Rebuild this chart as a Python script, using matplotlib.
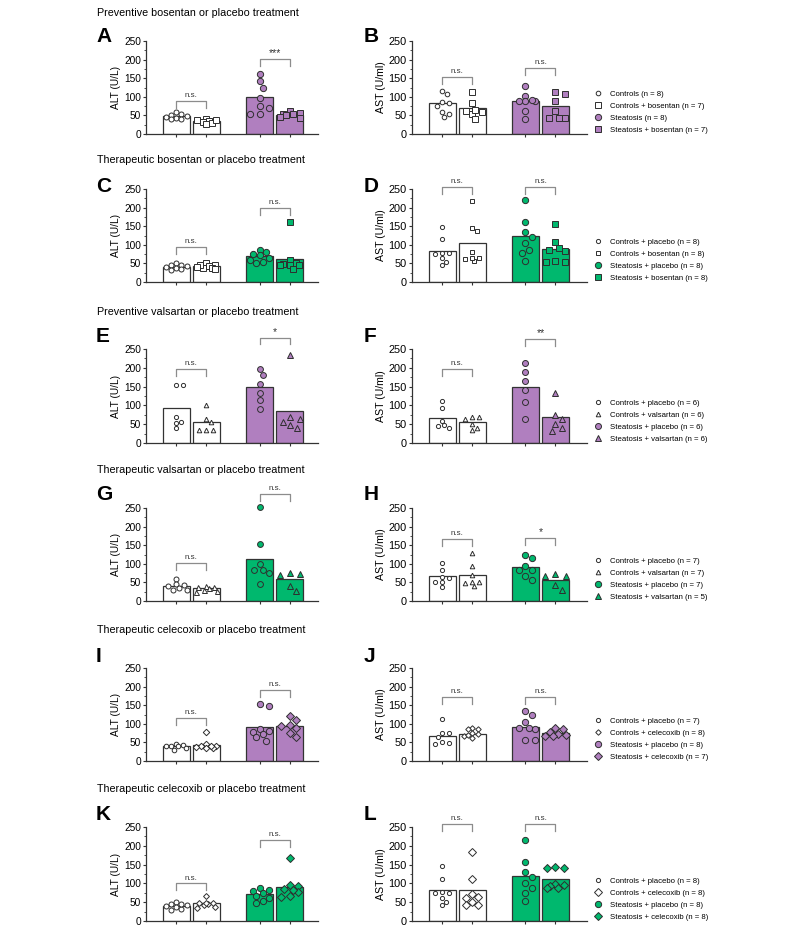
import numpy as np
import matplotlib.pyplot as plt
from matplotlib.lines import Line2D

plt.rcParams['font.family'] = ['Liberation Sans', 'DejaVu Sans']

PURPLE = '#B07FBF'
GREEN = '#00B86E'
EDGE = '#2e2e2e'

# ---- data (U/L or U/ml) ----
titles = ['Preventive bosentan or placebo treatment',
          'Therapeutic bosentan or placebo treatment',
          'Preventive valsartan or placebo treatment',
          'Therapeutic valsartan or placebo treatment',
          'Therapeutic celecoxib or placebo treatment',
          'Therapeutic celecoxib or placebo treatment']

legend_labels = [
    ['Controls (n = 8)', 'Controls + bosentan (n = 7)', 'Steatosis (n = 8)', 'Steatosis + bosentan (n = 7)'],
    ['Controls + placebo (n = 8)', 'Controls + bosentan (n = 8)', 'Steatosis + placebo (n = 8)', 'Steatosis + bosentan (n = 8)'],
    ['Controls + placebo (n = 6)', 'Controls + valsartan (n = 6)', 'Steatosis + placebo (n = 6)', 'Steatosis + valsartan (n = 6)'],
    ['Controls + placebo (n = 7)', 'Controls + valsartan (n = 7)', 'Steatosis + placebo (n = 7)', 'Steatosis + valsartan (n = 5)'],
    ['Controls + placebo (n = 7)', 'Controls + celecoxib (n = 8)', 'Steatosis + placebo (n = 8)', 'Steatosis + celecoxib (n = 7)'],
    ['Controls + placebo (n = 8)', 'Controls + celecoxib (n = 8)', 'Steatosis + placebo (n = 8)', 'Steatosis + celecoxib (n = 8)'],
]

# A: ALT, preventive bosentan
A_means = [48, 35, 99, 52]
A_points = [[60, 54, 50, 49, 47, 42, 41, 40],
            [40, 37, 35, 33, 30, 28, 38],
            [162, 142, 124, 97, 74, 70, 55, 55],
            [62, 57, 55, 50, 47, 42, 53]]
# B: AST, preventive bosentan
B_means = [82, 69, 90, 74]
B_points = [[115, 107, 86, 82, 75, 59, 55, 46],
            [112, 82, 61, 55, 59, 39, 64],
            [130, 103, 90, 89, 90, 61, 40, 92],
            [112, 108, 89, 62, 44, 44, 44]]
# C: ALT, therapeutic bosentan
C_means = [40, 42, 70, 62]
C_points = [[51, 46, 45, 42, 38, 36, 31, 39],
            [51, 46, 42, 38, 36, 38, 45, 39],
            [80, 86, 75, 65, 60, 51, 54, 72],
            [162, 59, 51, 49, 46, 45, 34, 46]]
# D: AST, therapeutic bosentan
D_means = [84, 104, 123, 88]
D_points = [[147, 115, 78, 76, 78, 64, 54, 46],
            [218, 145, 138, 80, 62, 57, 64, 64],
            [220, 160, 134, 122, 104, 87, 78, 57],
            [155, 107, 91, 82, 87, 57, 55, 55]]
# E: ALT, preventive valsartan
E_means = [92, 57, 148, 85]
E_points = [[155, 153, 68, 57, 52, 39],
            [101, 64, 55, 35, 35, 35],
            [196, 181, 158, 134, 115, 90],
            [235, 68, 64, 57, 48, 39]]
# F: AST, preventive valsartan
F_means = [67, 56, 148, 68]
F_points = [[111, 92, 59, 44, 41, 47],
            [69, 65, 69, 50, 34, 41],
            [213, 188, 164, 142, 108, 64],
            [134, 74, 64, 50, 41, 31]]
# G: ALT, therapeutic valsartan
G_means = [41, 35, 114, 59]
G_points = [[60, 45, 43, 35, 30, 29, 41],
            [41, 36, 38, 29, 25, 28, 38],
            [252, 154, 99, 83, 83, 76, 47],
            [76, 73, 71, 41, 28]]
# H: AST, therapeutic valsartan
H_means = [66, 70, 91, 56]
H_points = [[102, 82, 62, 65, 51, 51, 38],
            [129, 93, 70, 50, 39, 48, 50],
            [125, 116, 95, 83, 84, 68, 57],
            [72, 66, 66, 44, 30]]
# I: ALT, therapeutic celecoxib
I_means = [40, 44, 92, 94]
I_points = [[46, 44, 41, 40, 35, 30, 39],
            [77, 46, 41, 39, 35, 34, 37, 41],
            [152, 149, 85, 81, 79, 72, 65, 55],
            [121, 109, 96, 95, 88, 76, 64]]
# J: AST, therapeutic celecoxib
J_means = [67, 73, 92, 75]
J_points = [[114, 74, 75, 64, 50, 46, 48],
            [89, 86, 85, 75, 73, 66, 62, 70],
            [135, 125, 105, 89, 89, 85, 57, 57],
            [89, 85, 77, 73, 68, 68, 71]]
# K: ALT, therapeutic celecoxib
K_means = [40, 47, 72, 91]
K_points = [[51, 44, 42, 40, 38, 33, 29, 45],
            [66, 47, 42, 38, 35, 47, 45, 48],
            [87, 82, 80, 75, 66, 62, 54, 47],
            [168, 96, 93, 84, 78, 66, 65, 82]]
# L: AST, therapeutic celecoxib
L_means = [82, 82, 119, 112]
L_points = [[145, 111, 77, 75, 75, 60, 51, 43],
            [184, 111, 71, 64, 62, 51, 43, 43],
            [215, 157, 130, 118, 102, 87, 75, 53],
            [140, 140, 144, 98, 93, 87, 87, 96]]

# significance: (controls pair, steatosis pair) labels and bracket heights
sig_labels = {'A': ['n.s.', '***'], 'B': ['n.s.', 'n.s.'], 'C': ['n.s.', 'n.s.'],
              'D': ['n.s.', 'n.s.'], 'E': ['n.s.', '*'], 'F': ['n.s.', '**'],
              'G': ['n.s.', 'n.s.'], 'H': ['n.s.', '*'], 'I': ['n.s.', 'n.s.'],
              'J': ['n.s.', 'n.s.'], 'K': ['n.s.', 'n.s.'], 'L': ['n.s.', 'n.s.']}
sig_heights = {'A': [89, 202], 'B': [153, 177], 'C': [94, 199], 'D': [255, 255],
               'E': [196, 280], 'F': [196, 277], 'G': [102, 288], 'H': [167, 169],
               'I': [116, 191], 'J': [172, 172], 'K': [100, 215], 'L': [258, 258]}

# ---- style ----
row_colors = [PURPLE, GREEN, PURPLE, GREEN, PURPLE, GREEN]
row_markers = ['s', 's', '^', '^', 'D', 'D']
marker_sizes = {'A': [3.6, 4.5, 4.5, 4.8], 'B': [3.3, 4.5, 4.5, 4.5],
                'C': [3.6, 4.3, 4.5, 4.5], 'D': [3.0, 3.3, 4.5, 4.5],
                'E': [3.0, 3.3, 4.2, 5.0], 'F': [3.0, 3.3, 4.3, 5.0],
                'G': [3.6, 3.6, 4.2, 4.8], 'H': [3.0, 3.3, 4.5, 4.8],
                'I': [3.3, 3.3, 4.5, 4.2], 'J': [3.0, 2.8, 4.5, 3.6],
                'K': [3.6, 3.0, 4.5, 4.0], 'L': [3.0, 4.2, 4.5, 3.8]}

pos = np.array([0, 1, 2.78, 3.78])
W, H = 787, 932
tops = [41, 189, 349, 508, 668, 827]
bottoms = [134, 282, 443, 601, 761, 921]
title_y = [13, 160, 312, 470, 630, 789]
letter_y = [37, 186, 337, 495, 657, 815]

YPX = 93 / 250.0
CAP = 0.36   # max sideways spread, in bar units


def swarm(vals, ms, xpx):
    # beeswarm kept inside the bar: spread sideways, allow some overlap
    d = ms / 0.72 + 0.8
    cap = CAP * xpx
    placed = []
    offs = np.zeros(len(vals))
    cands = [0.0]
    k = 1
    while k * d * 0.45 <= cap:
        cands += [k * d * 0.45, -k * d * 0.45]
        k += 1
    for i in np.argsort(vals)[::-1]:
        y = vals[i] * YPX
        best, best_d = 0.0, -1
        for c in cands:
            md = min([np.hypot(c - px, y - py) for px, py in placed] + [1e9])
            if md >= d * 0.95:
                best = c
                break
            if md > best_d:
                best, best_d = c, md
        placed.append((best, y))
        offs[i] = best / xpx
    return offs


def draw_panel(ax, key, points, means, color, mk2, ylabel, right):
    fills = ['white', 'white', color, color]
    ax.bar(pos, means, width=0.9, color=fills, edgecolor='#333333', linewidth=0.9, zorder=2)
    xpx = ax.get_position().width * W / (ax.get_xlim()[1] - ax.get_xlim()[0])
    for g in range(4):
        vals = np.array(points[g], dtype=float)
        ms = marker_sizes[key][g]
        offs = swarm(vals, ms, xpx)
        ax.plot(pos[g] + offs, vals, linestyle='none', marker='o' if g % 2 == 0 else mk2,
                ms=ms, mfc=fills[g], mec=EDGE, mew=0.7, zorder=3, clip_on=False)
    # significance brackets
    for j, (a, b) in enumerate([(0, 1), (2, 3)]):
        h = sig_heights[key][j]
        leg = 18
        ax.plot([pos[a], pos[a], pos[b], pos[b]], [h - leg, h, h, h - leg],
                color='#8c8c8c', lw=0.9, clip_on=False, zorder=4)
        lab = sig_labels[key][j]
        ax.text((pos[a] + pos[b]) / 2, h + (5 if lab == 'n.s.' else 2), lab,
                ha='center', va='bottom', fontsize=5.8 if lab == 'n.s.' else 7.5,
                color='#333333', clip_on=False)
    ax.set_ylim(0, 250)
    ax.set_yticks(np.arange(0, 251, 50))
    ax.set_yticks(np.arange(0, 251, 25), minor=True)
    ax.set_xticks(pos)
    ax.set_xticklabels([])
    for s in ['top', 'right']:
        ax.spines[s].set_visible(False)
    for s in ['left', 'bottom']:
        ax.spines[s].set_linewidth(0.9)
        ax.spines[s].set_color('#333333')
    fs = 7.9 if right else 7.3
    ax.tick_params(axis='y', which='major', length=2.5, width=0.8, labelsize=fs, pad=1.2,
                   color='#333333')
    ax.tick_params(axis='y', which='minor', length=1.5, width=0.6, color='#333333')
    ax.tick_params(axis='x', length=2.5, width=0.8, color='#333333')
    ax.set_ylabel(ylabel, fontsize=7.6 if right else 7.3, labelpad=2)


fig = plt.figure(figsize=(W / 100, H / 100), dpi=100)

panel_data = [('A', A_points, A_means, 'B', B_points, B_means),
              ('C', C_points, C_means, 'D', D_points, D_means),
              ('E', E_points, E_means, 'F', F_points, F_means),
              ('G', G_points, G_means, 'H', H_points, H_means),
              ('I', I_points, I_means, 'J', J_points, J_means),
              ('K', K_points, K_means, 'L', L_points, L_means)]

for r, (kl, pl, ml, kr, pr, mr) in enumerate(panel_data):
    y0 = 1 - bottoms[r] / H
    hh = (bottoms[r] - tops[r]) / H
    axl = fig.add_axes([146 / W, y0, 172 / W, hh])
    axl.set_xlim(-1, 4.72)
    axr = fig.add_axes([412 / W, y0, 175 / W, hh])
    axr.set_xlim(-1, 4.83)
    color = row_colors[r]
    draw_panel(axl, kl, pl, ml, color, row_markers[r], 'ALT (U/L)', False)
    draw_panel(axr, kr, pr, mr, color, row_markers[r], 'AST (U/ml)', True)

    fig.text(97 / W, 1 - title_y[r] / H, titles[r], fontsize=7.75, ha='left', va='center')
    fig.text(96 / W, 1 - letter_y[r] / H, kl, fontsize=15, fontweight='bold', ha='left', va='center')
    fig.text(364 / W, 1 - letter_y[r] / H, kr, fontsize=15, fontweight='bold', ha='left', va='center')

    fills = ['white', 'white', color, color]
    handles = [Line2D([], [], linestyle='none', marker='o' if g % 2 == 0 else row_markers[r],
                      ms=marker_sizes[kr][g], mfc=fills[g], mec=EDGE, mew=0.7)
               for g in range(4)]
    axr.legend(handles, legend_labels[r], loc='lower left', bbox_to_anchor=(1.04, 0.0),
               frameon=False, fontsize=5.6, handlelength=1.0, handletextpad=1.0,
               labelspacing=0.58, borderpad=0, borderaxespad=0)

fig.savefig('out.png', dpi=100)
